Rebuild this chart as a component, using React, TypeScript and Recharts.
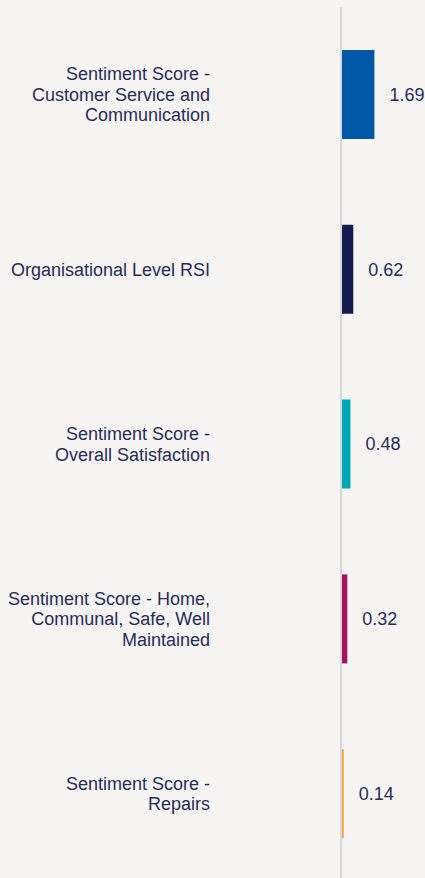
import React from "react";
import { Bar, BarChart, Cell, LabelList, XAxis, YAxis } from "recharts";

const labelLines = [
    ["Sentiment Score -", "Customer Service and", "Communication"],
    ["Organisational Level RSI"],
    ["Sentiment Score -", "Overall Satisfaction"],
    ["Sentiment Score - Home,", "Communal, Safe, Well", "Maintained"],
    ["Sentiment Score -", "Repairs"],
];
const categories = labelLines.map(lines => lines.join(" "));
const scores = [1.69, 0.62, 0.48, 0.32, 0.14];
const barColors = ["#0058a7", "#161b4f", "#00a7b6", "#a4145f", "#f5a43b"];

const textColor = "#262c5c";
const fontSize = 18;
const fontFamily = "'Liberation Sans', Arial, sans-serif";

const data = categories.map((name, i) => ({ name, score: scores[i] }));

function CategoryTick(props: any) {
    const { x, y, payload } = props;
    const lines = labelLines[payload.index] || [payload.value];
    const lineHeight = 20.5;
    const startY = y - ((lines.length - 1) * lineHeight) / 2;
    return (
        <text x={x} y={startY} textAnchor="end" fill={textColor} fontSize={fontSize} fontFamily={fontFamily}>
            {lines.map((line, i) => (
                <tspan key={i} x={x} y={startY + i * lineHeight} dy="0.355em">
                    {line}
                </tspan>
            ))}
        </text>
    );
}

export default function App() {
    return (
        <div style={{ position: "absolute", top: 0, left: 0, width: 425, height: 878, background: "#f6f5f3", overflow: "hidden" }}>
            <BarChart width={425} height={882} data={data} layout="vertical" margin={{ top: 7, right: 0, bottom: 1, left: 0 }}>
                <XAxis type="number" domain={[0, 4.25]} allowDataOverflow hide />
                <YAxis
                    type="category"
                    dataKey="name"
                    width={341}
                    tickSize={0}
                    tickMargin={131}
                    tickLine={false}
                    axisLine={{ stroke: "#d8d8d8", strokeWidth: 2 }}
                    tick={<CategoryTick />}
                    interval={0}
                />
                <Bar dataKey="score" barSize={89} isAnimationActive={false}>
                    {data.map((d, i) => (
                        <Cell key={d.name} fill={barColors[i]} />
                    ))}
                    <LabelList
                        dataKey="score"
                        position="right"
                        offset={15}
                        fill={textColor}
                        fontSize={fontSize}
                        fontFamily={fontFamily}
                        formatter={(v: any) => Number(v).toFixed(2)}
                    />
                </Bar>
            </BarChart>
        </div>
    );
}
